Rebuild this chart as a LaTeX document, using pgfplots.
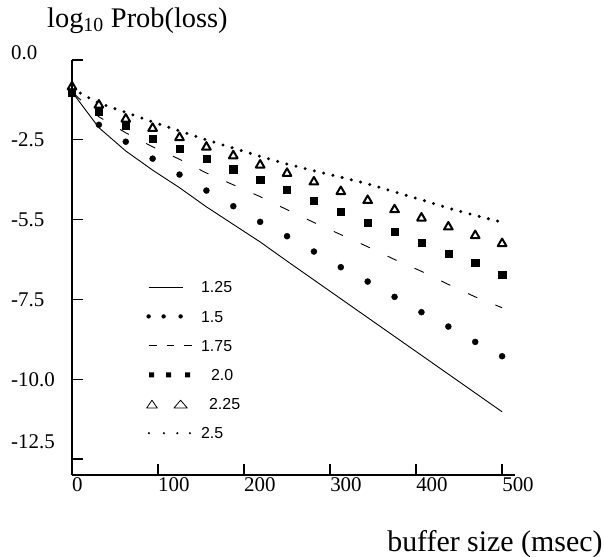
\documentclass[border=0pt]{standalone}
\usepackage{fontspec}
\setmainfont{Liberation Serif}
\setsansfont{Liberation Sans}
\usepackage{pgfplots}
\pgfplotsset{compat=1.18}
\usepackage{pgfplotstable}

% columns: a=1.25, b=1.5, c=1.75, d=2.0, e=2.25, f=2.5
\pgfplotstableread{
x a b c d e f
0      -1.00 -1.00 -1.00 -1.03 -0.84 -0.90
31.25  -2.12 -2.03 -1.78 -1.61 -1.41 -1.35
62.5   -2.85 -2.56 -2.28 -2.06 -1.85 -1.64
93.75  -3.45 -3.09 -2.72 -2.47 -2.14 -1.94
125    -4.00 -3.59 -3.11 -2.79 -2.43 -2.22
156.25 -4.60 -4.09 -3.54 -3.08 -2.73 -2.50
187.5  -5.15 -4.58 -3.91 -3.42 -3.00 -2.76
218.75 -5.70 -5.07 -4.28 -3.76 -3.29 -3.02
250    -6.30 -5.52 -4.69 -4.06 -3.55 -3.26
281.25 -6.89 -6.00 -5.09 -4.42 -3.82 -3.47
312.5  -7.48 -6.49 -5.47 -4.76 -4.12 -3.67
343.75 -8.07 -6.94 -5.85 -5.10 -4.40 -3.88
375    -8.66 -7.42 -6.25 -5.39 -4.69 -4.13
406.25 -9.25 -7.90 -6.62 -5.73 -4.95 -4.38
437.5  -9.84 -8.35 -7.03 -6.07 -5.23 -4.64
468.75 -10.43 -8.83 -7.42 -6.36 -5.50 -4.87
500    -11.02 -9.28 -7.76 -6.72 -5.75 -5.08
}\data

\tikzset{bbox/.style={draw=none, fill=none}}

\begin{document}
\begin{tikzpicture}
\begin{axis}[
  at={(0,0)}, anchor=south west,
  scale only axis, width=443bp, height=415bp,
  xmin=0, xmax=515, ymin=-13, ymax=0,
  clip=false,
  axis x line=bottom, axis y line=left,
  axis line style={line width=1.5bp, -},
  tick align=inside, major tick length=11.5bp,
  tick style={line width=1.3bp, black},
  xtick={0,100,200,300,400,500},
  xticklabels={0,100,200,300,400,500},
  ytick={0,-2.5,-5,-7.5,-10,-12.5},
  yticklabels={\raisebox{7bp}[\height][\depth]{0.0},-2.5,-5.5,-7.5,-10.0,\raisebox{17bp}[\height][\depth]{-12.5}},
  xticklabel style={anchor=north west, inner sep=0pt, yshift=-2bp, font=\fontsize{21}{21}\selectfont},
  yticklabel style={anchor=west, inner sep=0pt, xshift=-61bp, font=\fontsize{21}{21}\selectfont},
  xlabel={buffer size (msec)},
  xlabel style={at={(rel axis cs:1.198,-0.1848)}, anchor=base east, inner sep=0pt, font=\fontsize{30}{30}\selectfont},
  ylabel={log\textsubscript{10} Prob(loss)},
  ylabel style={at={(rel axis cs:-0.0564,1.0795)}, rotate=-90, anchor=base west, inner sep=0pt, font=\fontsize{28.5}{28.5}\selectfont},
  legend cell align=left,
  legend style={at={(axis cs:86.05,-6.978)}, anchor=north west, draw=none, fill=none,
    inner sep=0pt, row sep=19.2bp, column sep=8.5bp,
    font=\sffamily\fontsize{16}{16}\selectfont,
    nodes={inner sep=0pt, text height=10bp, text depth=0pt, anchor=base west},
    cells={anchor=base west}},
]
\addplot[black, line width=0.9bp, mark=none,
  legend image code/.code={\path[bbox] (0bp,0bp) rectangle (46bp,10bp);
    \draw[black, solid, line width=0.8bp] (2bp,5.75bp)--(36bp,5.75bp);}]
  table[x=x,y=a]{\data};
\addlegendentry{1.25}
\addplot[black, only marks, mark=*, mark size=3bp,
  legend image code/.code={\path[bbox] (0bp,0bp) rectangle (46bp,10bp);
    \path[draw=none, fill=black] (2bp,5.75bp) circle[radius=2.2bp] (17bp,5.75bp) circle[radius=2.2bp] (34bp,5.75bp) circle[radius=2.2bp];}]
  table[x=x,y=b]{\data};
\addlegendentry{1.5}
\addplot[black, line width=0.9bp, mark=none, dash pattern=on 10bp off 19.6bp, dash phase=27.4bp,
  legend image code/.code={\path[bbox] (0bp,0bp) rectangle (46bp,10bp);
    \draw[black, solid, line width=0.9bp] (2bp,5.75bp)--(10bp,5.75bp) (20bp,5.75bp)--(27bp,5.75bp) (37bp,5.75bp)--(45bp,5.75bp);}]
  table[x=x,y=c]{\data};
\addlegendentry{1.75}
\addplot[black, only marks, mark=square*, mark size=3.6bp,
  legend image code/.code={\path[bbox] (0bp,0bp) rectangle (46bp,10bp);
    \path[draw=none, fill=black] (2.5bp,3.25bp) rectangle (7.5bp,8.25bp) (19.5bp,3.25bp) rectangle (24.5bp,8.25bp) (38.5bp,3.25bp) rectangle (43.5bp,8.25bp);}]
  table[x=x,y=d]{\data};
\addlegendentry{\hspace{10bp}2.0}
\addplot[black, only marks, mark=triangle, mark size=5bp, mark options={line width=2bp, solid, line join=round},
  legend image code/.code={\path[bbox] (0bp,0bp) rectangle (46bp,10bp);
    \draw[black, solid, fill=none, line width=0.8bp, line join=round] (0bp,1.75bp)--(10.7bp,1.75bp)--(5.35bp,9.5bp)--cycle (27.3bp,1.75bp)--(40.7bp,1.75bp)--(34bp,9.5bp)--cycle;}]
  table[x=x,y=e]{\data};
\addlegendentry{\hspace{8bp}2.25}
\addplot[black, line width=3.3bp, mark=none, line cap=round, dash pattern=on 0bp off 9.5bp,
  legend image code/.code={\path[bbox] (0bp,0bp) rectangle (46bp,10bp);
    \path[draw=none, fill=black] (2.3bp,5.75bp) circle[radius=1.2bp] (17.3bp,5.75bp) circle[radius=1.2bp] (30.7bp,5.75bp) circle[radius=1.2bp] (43.3bp,5.75bp) circle[radius=1.2bp];}]
  table[x=x,y=f]{\data};
\addlegendentry{2.5}
\end{axis}
\pgfresetboundingbox
\path (-72bp,-82bp) rectangle (532bp,475bp);
\end{tikzpicture}
\end{document}
